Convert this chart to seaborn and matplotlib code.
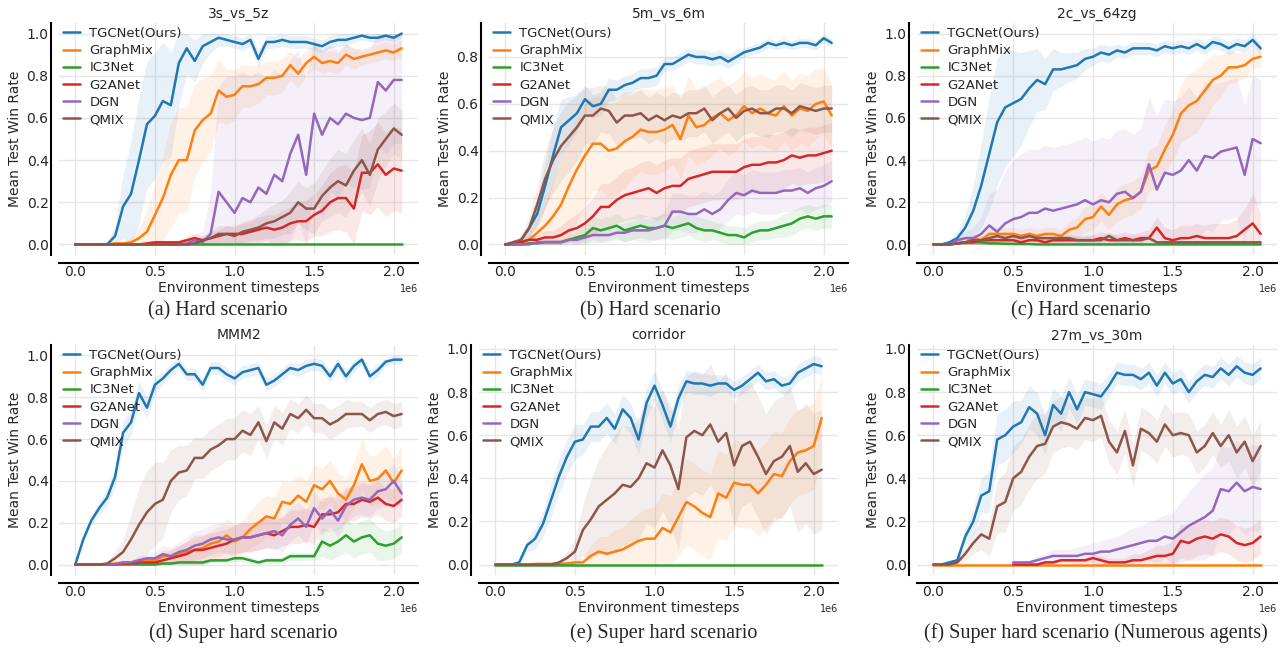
import numpy as np
import matplotlib
matplotlib.use('Agg')
import matplotlib.pyplot as plt
import seaborn as sns

nan = np.nan

methods = ['TGCNet(Ours)', 'GraphMix', 'IC3Net', 'G2ANet', 'DGN', 'QMIX']
colors = ['#1f77b4', '#ff7f0e', '#2ca02c', '#d62728', '#9467bd', '#8c564b']

# evaluation points: 0 .. 2.05e6 every 50k steps
steps = np.arange(42) * 50000

titles = ['3s_vs_5z', '5m_vs_6m', '2c_vs_64zg', 'MMM2', 'corridor', '27m_vs_30m']
captions = ['(a) Hard scenario', '(b) Hard scenario', '(c) Hard scenario',
            '(d) Super hard scenario', '(e) Super hard scenario',
            '(f) Super hard scenario (Numerous agents)']

zeros = [0.0] * 42

# ---------------- (a) 3s_vs_5z ----------------
a_tgc = [0, 0, 0, 0, 0, 0.04, 0.18, 0.24, 0.40, 0.57,
         0.61, 0.68, 0.66, 0.86, 0.93, 0.87, 0.94, 0.96, 0.98, 0.97,
         0.96, 0.95, 0.97, 0.88, 0.96, 0.96, 0.97, 0.96, 0.96, 0.96,
         0.95, 0.94, 0.96, 0.97, 0.97, 0.98, 0.99, 0.98, 0.98, 0.99,
         0.98, 1.00]
a_tgc_sd = [0, 0, 0, 0, 0.01, 0.05, 0.15, 0.25, 0.3, 0.3,
            0.3, 0.28, 0.25, 0.2, 0.12, 0.1, 0.08, 0.05, 0.04, 0.03,
            0.03, 0.03, 0.03, 0.04, 0.03, 0.03, 0.03, 0.03, 0.03, 0.03,
            0.03, 0.03, 0.03, 0.03, 0.03, 0.02, 0.02, 0.02, 0.02, 0.02,
            0.02, 0.02]
a_gmix = [0, 0, 0, 0, 0, 0.005, 0.005, 0.01, 0.03, 0.06,
          0.14, 0.22, 0.33, 0.40, 0.40, 0.54, 0.59, 0.62, 0.73, 0.70,
          0.71, 0.75, 0.75, 0.76, 0.79, 0.79, 0.80, 0.85, 0.81, 0.86,
          0.89, 0.86, 0.87, 0.86, 0.90, 0.88, 0.89, 0.90, 0.91, 0.92,
          0.91, 0.93]
a_gmix_sd = [0, 0, 0, 0, 0, 0.01, 0.01, 0.02, 0.05, 0.1,
             0.15, 0.2, 0.25, 0.25, 0.25, 0.22, 0.2, 0.18, 0.15, 0.13,
             0.12, 0.1, 0.1, 0.09, 0.08, 0.08, 0.08, 0.07, 0.07, 0.06,
             0.06, 0.05, 0.05, 0.05, 0.05, 0.05, 0.04, 0.04, 0.04, 0.04,
             0.04, 0.04]
a_ic3 = zeros
a_ic3_sd = zeros
a_g2a = [0, 0, 0, 0, 0, 0, 0, 0, 0, 0.005,
         0.01, 0.01, 0.01, 0.01, 0.02, 0.03, 0.02, 0.03, 0.04, 0.05,
         0.05, 0.05, 0.06, 0.07, 0.08, 0.07, 0.08, 0.10, 0.11, 0.11,
         0.14, 0.16, 0.20, 0.22, 0.22, 0.17, 0.34, 0.34, 0.38, 0.33,
         0.36, 0.35]
a_g2a_sd = [0, 0, 0, 0, 0, 0, 0, 0, 0, 0.005,
            0.01, 0.01, 0.01, 0.01, 0.02, 0.02, 0.02, 0.03, 0.03, 0.04,
            0.04, 0.05, 0.05, 0.06, 0.06, 0.07, 0.08, 0.08, 0.09, 0.1,
            0.1, 0.12, 0.14, 0.15, 0.16, 0.17, 0.18, 0.2, 0.2, 0.2,
            0.2, 0.2]
a_dgn = [0, 0, 0, 0, 0, 0, 0, 0, 0, 0,
         0, 0, 0, 0, 0.005, 0.02, 0.01, 0.05, 0.25, 0.20,
         0.15, 0.22, 0.20, 0.27, 0.24, 0.33, 0.30, 0.43, 0.52, 0.33,
         0.62, 0.52, 0.60, 0.57, 0.62, 0.60, 0.59, 0.60, 0.77, 0.73,
         0.78, 0.78]
a_dgn_sd = [0, 0, 0, 0, 0, 0, 0, 0, 0, 0,
            0, 0, 0, 0, 0.01, 0.03, 0.05, 0.2, 0.5, 0.6,
            0.65, 0.6, 0.6, 0.55, 0.55, 0.5, 0.5, 0.45, 0.4, 0.45,
            0.35, 0.4, 0.35, 0.35, 0.33, 0.33, 0.33, 0.33, 0.3, 0.3,
            0.3, 0.3]
a_qmix = [0, 0, 0, 0, 0, 0, 0, 0, 0, 0,
          0, 0, 0, 0, 0, 0.005, 0.02, 0.03, 0.05, 0.05,
          0.04, 0.06, 0.07, 0.08, 0.10, 0.11, 0.13, 0.15, 0.20, 0.17,
          0.17, 0.23, 0.27, 0.30, 0.28, 0.35, 0.40, 0.33, 0.45, 0.50,
          0.55, 0.52]
a_qmix_sd = [0, 0, 0, 0, 0, 0, 0, 0, 0, 0,
             0, 0, 0, 0, 0, 0.01, 0.02, 0.03, 0.04, 0.04,
             0.04, 0.05, 0.05, 0.06, 0.07, 0.08, 0.08, 0.1, 0.1, 0.1,
             0.12, 0.12, 0.14, 0.15, 0.15, 0.15, 0.15, 0.15, 0.15, 0.13,
             0.12, 0.12]

# ---------------- (b) 5m_vs_6m ----------------
b_tgc = [0, 0, 0.02, 0.07, 0.13, 0.25, 0.38, 0.50, 0.53, 0.56,
         0.62, 0.59, 0.60, 0.66, 0.66, 0.68, 0.69, 0.71, 0.71, 0.72,
         0.77, 0.77, 0.79, 0.81, 0.80, 0.80, 0.79, 0.80, 0.78, 0.80,
         0.82, 0.83, 0.84, 0.86, 0.85, 0.86, 0.85, 0.86, 0.86, 0.85,
         0.88, 0.86]
b_tgc_sd = [0, 0.005, 0.01, 0.03, 0.06, 0.1, 0.12, 0.12, 0.1, 0.08,
            0.06, 0.05, 0.05, 0.05, 0.04, 0.04, 0.04, 0.04, 0.04, 0.04,
            0.03, 0.03, 0.03, 0.03, 0.03, 0.03, 0.03, 0.03, 0.03, 0.03,
            0.02, 0.02, 0.02, 0.02, 0.02, 0.02, 0.02, 0.02, 0.02, 0.02,
            0.02, 0.02]
b_gmix = [0, 0, 0.01, 0.02, 0.05, 0.08, 0.12, 0.17, 0.25, 0.32,
          0.38, 0.43, 0.43, 0.40, 0.41, 0.44, 0.46, 0.49, 0.48, 0.48,
          0.49, 0.51, 0.45, 0.55, 0.50, 0.51, 0.54, 0.56, 0.53, 0.55,
          0.59, 0.56, 0.58, 0.56, 0.55, 0.59, 0.55, 0.58, 0.57, 0.60,
          0.61, 0.55]
b_gmix_sd = [0, 0, 0.01, 0.03, 0.06, 0.1, 0.15, 0.2, 0.22, 0.22,
             0.22, 0.2, 0.2, 0.2, 0.2, 0.2, 0.18, 0.18, 0.18, 0.18,
             0.18, 0.17, 0.17, 0.17, 0.16, 0.16, 0.16, 0.15, 0.15, 0.15,
             0.15, 0.15, 0.15, 0.15, 0.15, 0.15, 0.15, 0.15, 0.15, 0.15,
             0.14, 0.14]
b_ic3 = [0, 0, 0, 0.005, 0.005, 0.01, 0.01, 0.01, 0.02, 0.03,
         0.04, 0.07, 0.06, 0.07, 0.08, 0.06, 0.07, 0.08, 0.07, 0.07,
         0.08, 0.07, 0.08, 0.09, 0.07, 0.06, 0.06, 0.05, 0.04, 0.04,
         0.03, 0.05, 0.06, 0.06, 0.07, 0.08, 0.09, 0.11, 0.12, 0.11,
         0.12, 0.12]
b_ic3_sd = [0, 0, 0, 0.005, 0.005, 0.01, 0.01, 0.01, 0.02, 0.03,
            0.04, 0.05, 0.05, 0.05, 0.05, 0.05, 0.05, 0.05, 0.05, 0.05,
            0.05, 0.05, 0.05, 0.05, 0.05, 0.05, 0.04, 0.04, 0.04, 0.04,
            0.04, 0.04, 0.04, 0.04, 0.04, 0.05, 0.05, 0.05, 0.05, 0.05,
            0.05, 0.05]
b_g2a = [0, 0, 0.01, 0.02, 0.02, 0.03, 0.03, 0.04, 0.06, 0.07,
         0.09, 0.12, 0.16, 0.16, 0.19, 0.21, 0.22, 0.23, 0.24, 0.22,
         0.24, 0.25, 0.25, 0.28, 0.29, 0.30, 0.31, 0.31, 0.31, 0.31,
         0.33, 0.34, 0.34, 0.35, 0.35, 0.36, 0.38, 0.37, 0.38, 0.38,
         0.39, 0.40]
b_g2a_sd = [0, 0, 0.01, 0.02, 0.02, 0.03, 0.03, 0.04, 0.05, 0.06,
            0.07, 0.08, 0.1, 0.1, 0.1, 0.11, 0.11, 0.12, 0.12, 0.12,
            0.12, 0.12, 0.12, 0.12, 0.12, 0.12, 0.12, 0.12, 0.12, 0.12,
            0.12, 0.12, 0.12, 0.12, 0.12, 0.12, 0.12, 0.12, 0.12, 0.12,
            0.12, 0.12]
b_dgn = [0, 0, 0, 0, 0.01, 0.01, 0.01, 0.01, 0.02, 0.02,
         0.03, 0.04, 0.04, 0.04, 0.05, 0.05, 0.06, 0.06, 0.06, 0.07,
         0.08, 0.14, 0.14, 0.13, 0.13, 0.15, 0.13, 0.15, 0.19, 0.22,
         0.21, 0.23, 0.22, 0.22, 0.22, 0.23, 0.23, 0.24, 0.22, 0.24,
         0.25, 0.27]
b_dgn_sd = [0, 0, 0, 0, 0.01, 0.01, 0.01, 0.01, 0.01, 0.02,
            0.02, 0.03, 0.03, 0.03, 0.03, 0.04, 0.04, 0.05, 0.05, 0.05,
            0.06, 0.08, 0.08, 0.08, 0.08, 0.08, 0.08, 0.08, 0.09, 0.09,
            0.09, 0.09, 0.09, 0.09, 0.09, 0.09, 0.09, 0.09, 0.09, 0.09,
            0.09, 0.09]
b_qmix = [0, 0.01, 0.02, 0.07, 0.17, 0.28, 0.36, 0.42, 0.46, 0.50,
          0.55, 0.55, 0.58, 0.57, 0.52, 0.55, 0.55, 0.56, 0.53, 0.55,
          0.53, 0.55, 0.54, 0.56, 0.56, 0.58, 0.53, 0.56, 0.58, 0.54,
          0.57, 0.58, 0.56, 0.56, 0.58, 0.58, 0.56, 0.59, 0.58, 0.57,
          0.58, 0.58]
b_qmix_sd = [0, 0.01, 0.02, 0.05, 0.08, 0.12, 0.14, 0.15, 0.15, 0.14,
             0.12, 0.12, 0.1, 0.1, 0.1, 0.1, 0.1, 0.1, 0.1, 0.1,
             0.1, 0.1, 0.1, 0.1, 0.1, 0.1, 0.1, 0.1, 0.1, 0.1,
             0.1, 0.1, 0.1, 0.1, 0.1, 0.1, 0.1, 0.1, 0.1, 0.1,
             0.1, 0.1]

# ---------------- (c) 2c_vs_64zg ----------------
c_tgc = [0, 0, 0.01, 0.03, 0.08, 0.16, 0.28, 0.43, 0.58, 0.65,
         0.67, 0.69, 0.74, 0.78, 0.76, 0.83, 0.83, 0.84, 0.85, 0.88,
         0.89, 0.91, 0.90, 0.92, 0.91, 0.93, 0.93, 0.93, 0.92, 0.94,
         0.93, 0.94, 0.93, 0.95, 0.93, 0.96, 0.95, 0.93, 0.95, 0.94,
         0.97, 0.93]
c_tgc_sd = [0, 0, 0.01, 0.03, 0.06, 0.12, 0.2, 0.27, 0.3, 0.28,
            0.25, 0.22, 0.18, 0.15, 0.12, 0.1, 0.08, 0.07, 0.06, 0.05,
            0.04, 0.04, 0.04, 0.03, 0.03, 0.03, 0.03, 0.03, 0.03, 0.03,
            0.03, 0.03, 0.03, 0.03, 0.03, 0.03, 0.03, 0.03, 0.03, 0.03,
            0.03, 0.03]
c_gmix = [0, 0, 0, 0.005, 0.01, 0.03, 0.02, 0.05, 0.05, 0.05,
          0.05, 0.04, 0.05, 0.04, 0.05, 0.05, 0.04, 0.07, 0.08, 0.12,
          0.13, 0.18, 0.14, 0.19, 0.21, 0.22, 0.25, 0.35, 0.37, 0.45,
          0.52, 0.62, 0.66, 0.68, 0.73, 0.78, 0.80, 0.84, 0.84, 0.85,
          0.88, 0.89]
c_gmix_sd = [0, 0, 0, 0.005, 0.01, 0.02, 0.02, 0.03, 0.03, 0.03,
             0.03, 0.03, 0.03, 0.03, 0.03, 0.03, 0.03, 0.04, 0.05, 0.06,
             0.06, 0.07, 0.07, 0.08, 0.08, 0.08, 0.08, 0.1, 0.1, 0.12,
             0.12, 0.14, 0.15, 0.15, 0.14, 0.12, 0.1, 0.08, 0.07, 0.06,
             0.05, 0.05]
c_ic3 = [0, 0, 0, 0.005, 0.01, 0.01, 0.01, 0.005, 0.005, 0.003,
         0.003, 0.002, 0.002, 0, 0, 0, 0, 0, 0, 0,
         0, 0, 0, 0, 0, 0, 0, 0, 0, 0,
         0, 0, 0, 0, 0, 0, 0, 0, 0, 0,
         0, 0]
c_ic3_sd = [0, 0, 0, 0.005, 0.01, 0.01, 0.01, 0.005, 0.005, 0.003,
            0.003, 0.002, 0.002, 0, 0, 0, 0, 0, 0, 0,
            0, 0, 0, 0, 0, 0, 0, 0, 0, 0,
            0, 0, 0, 0, 0, 0, 0, 0, 0, 0,
            0, 0]
c_g2a = [0, 0, 0, 0.005, 0.01, 0.01, 0.02, 0.02, 0.02, 0.02,
         0.02, 0.01, 0.02, 0.02, 0.01, 0.02, 0.02, 0.02, 0.02, 0.02,
         0.02, 0.03, 0.02, 0.02, 0.03, 0.02, 0.03, 0.03, 0.08, 0.03,
         0.02, 0.03, 0.03, 0.04, 0.03, 0.03, 0.03, 0.03, 0.04, 0.07,
         0.10, 0.05]
c_g2a_sd = [0, 0, 0, 0.005, 0.01, 0.01, 0.02, 0.02, 0.02, 0.02,
            0.02, 0.02, 0.02, 0.02, 0.02, 0.02, 0.02, 0.02, 0.02, 0.02,
            0.03, 0.03, 0.03, 0.03, 0.03, 0.03, 0.03, 0.04, 0.05, 0.05,
            0.05, 0.06, 0.06, 0.06, 0.06, 0.07, 0.07, 0.07, 0.08, 0.1,
            0.14, 0.1]
c_dgn = [0, 0, 0, 0.02, 0.03, 0.03, 0.05, 0.09, 0.06, 0.10,
         0.12, 0.13, 0.15, 0.15, 0.17, 0.16, 0.17, 0.18, 0.19, 0.21,
         0.19, 0.21, 0.20, 0.24, 0.25, 0.22, 0.25, 0.38, 0.26, 0.34,
         0.33, 0.35, 0.40, 0.35, 0.42, 0.41, 0.44, 0.45, 0.46, 0.33,
         0.50, 0.48]
c_dgn_sd = [0, 0, 0, 0.02, 0.03, 0.05, 0.08, 0.15, 0.2, 0.25,
            0.28, 0.3, 0.3, 0.3, 0.3, 0.3, 0.3, 0.3, 0.3, 0.3,
            0.3, 0.3, 0.3, 0.3, 0.3, 0.3, 0.3, 0.32, 0.35, 0.35,
            0.35, 0.35, 0.35, 0.35, 0.35, 0.35, 0.33, 0.33, 0.33, 0.33,
            0.3, 0.3]
c_qmix = [0, 0, 0, 0.005, 0.01, 0.02, 0.02, 0.03, 0.04, 0.03,
          0.04, 0.03, 0.04, 0.03, 0.03, 0.03, 0.03, 0.03, 0.02, 0.02,
          0.02, 0.02, 0.04, 0.02, 0.02, 0.02, 0.02, 0.03, 0.01, 0.01,
          0.01, 0.01, 0.01, 0.01, 0.01, 0.01, 0.01, 0.01, 0.01, 0.01,
          0.01, 0.01]
c_qmix_sd = [0, 0, 0, 0.005, 0.01, 0.02, 0.02, 0.02, 0.02, 0.02,
             0.02, 0.02, 0.02, 0.02, 0.02, 0.02, 0.02, 0.02, 0.02, 0.02,
             0.02, 0.02, 0.02, 0.02, 0.02, 0.02, 0.02, 0.02, 0.01, 0.01,
             0.01, 0.01, 0.01, 0.01, 0.01, 0.01, 0.01, 0.01, 0.01, 0.01,
             0.01, 0.01]

# ---------------- (d) MMM2 ----------------
d_tgc = [0, 0.12, 0.21, 0.27, 0.32, 0.42, 0.63, 0.68, 0.82, 0.75,
         0.86, 0.89, 0.93, 0.96, 0.91, 0.91, 0.86, 0.94, 0.94, 0.91,
         0.89, 0.92, 0.93, 0.94, 0.86, 0.88, 0.91, 0.94, 0.93, 0.95,
         0.96, 0.95, 0.90, 0.96, 0.90, 0.95, 0.98, 0.90, 0.93, 0.97,
         0.98, 0.98]
d_tgc_sd = [0, 0.01, 0.02, 0.03, 0.04, 0.05, 0.06, 0.06, 0.06, 0.05,
            0.04, 0.03, 0.03, 0.03, 0.03, 0.03, 0.03, 0.03, 0.03, 0.03,
            0.03, 0.03, 0.03, 0.03, 0.03, 0.03, 0.03, 0.03, 0.03, 0.03,
            0.03, 0.03, 0.03, 0.03, 0.03, 0.03, 0.02, 0.03, 0.03, 0.02,
            0.02, 0.02]
d_gmix = [0, 0, 0, 0, 0, 0.005, 0.01, 0.01, 0.02, 0.02,
          0.02, 0.04, 0.04, 0.05, 0.06, 0.07, 0.08, 0.10, 0.11, 0.14,
          0.11, 0.13, 0.17, 0.20, 0.23, 0.22, 0.30, 0.29, 0.33, 0.30,
          0.38, 0.36, 0.40, 0.34, 0.31, 0.38, 0.48, 0.40, 0.41, 0.45,
          0.39, 0.45]
d_gmix_sd = [0, 0, 0, 0, 0, 0.005, 0.01, 0.01, 0.02, 0.02,
             0.02, 0.03, 0.03, 0.04, 0.05, 0.05, 0.06, 0.06, 0.07, 0.08,
             0.08, 0.08, 0.09, 0.1, 0.1, 0.1, 0.1, 0.1, 0.1, 0.1,
             0.1, 0.1, 0.1, 0.1, 0.1, 0.11, 0.12, 0.12, 0.12, 0.12,
             0.12, 0.12]
d_ic3 = [0, 0, 0, 0, 0, 0, 0, 0, 0, 0,
         0, 0.005, 0.005, 0.01, 0.01, 0.01, 0.01, 0.02, 0.02, 0.02,
         0.03, 0.03, 0.02, 0.01, 0.02, 0.02, 0.02, 0.04, 0.04, 0.04,
         0.04, 0.11, 0.09, 0.11, 0.14, 0.11, 0.13, 0.14, 0.10, 0.09,
         0.10, 0.13]
d_ic3_sd = [0, 0, 0, 0, 0, 0, 0, 0, 0, 0,
            0, 0.005, 0.005, 0.01, 0.01, 0.01, 0.01, 0.01, 0.01, 0.01,
            0.015, 0.015, 0.015, 0.01, 0.015, 0.015, 0.015, 0.02, 0.02, 0.02,
            0.02, 0.07, 0.07, 0.07, 0.08, 0.08, 0.08, 0.08, 0.08, 0.07,
            0.07, 0.07]
d_g2a = [0, 0, 0, 0, 0, 0, 0.005, 0.005, 0.01, 0.01,
         0.01, 0.02, 0.03, 0.04, 0.05, 0.07, 0.07, 0.08, 0.09, 0.10,
         0.12, 0.13, 0.13, 0.14, 0.15, 0.14, 0.16, 0.18, 0.18, 0.19,
         0.18, 0.24, 0.24, 0.25, 0.29, 0.29, 0.31, 0.30, 0.32, 0.29,
         0.28, 0.31]
d_g2a_sd = [0, 0, 0, 0, 0, 0, 0.005, 0.005, 0.01, 0.01,
            0.02, 0.03, 0.04, 0.05, 0.06, 0.07, 0.07, 0.07, 0.07, 0.07,
            0.07, 0.07, 0.07, 0.07, 0.07, 0.07, 0.07, 0.08, 0.08, 0.08,
            0.08, 0.08, 0.08, 0.08, 0.08, 0.08, 0.08, 0.08, 0.08, 0.08,
            0.08, 0.08]
d_dgn = [0, 0, 0, 0, 0, 0, 0.01, 0.01, 0.02, 0.03,
         0.03, 0.05, 0.04, 0.06, 0.07, 0.09, 0.10, 0.12, 0.13, 0.12,
         0.12, 0.13, 0.13, 0.14, 0.15, 0.16, 0.14, 0.19, 0.22, 0.18,
         0.27, 0.22, 0.26, 0.21, 0.28, 0.31, 0.32, 0.31, 0.35, 0.36,
         0.40, 0.34]
d_dgn_sd = [0, 0, 0, 0, 0, 0, 0.01, 0.01, 0.02, 0.02,
            0.03, 0.04, 0.04, 0.05, 0.06, 0.07, 0.07, 0.07, 0.07, 0.07,
            0.07, 0.07, 0.07, 0.07, 0.07, 0.08, 0.08, 0.08, 0.08, 0.08,
            0.08, 0.08, 0.08, 0.08, 0.08, 0.08, 0.08, 0.08, 0.08, 0.08,
            0.08, 0.08]
d_qmix = [0, 0, 0, 0, 0.005, 0.03, 0.06, 0.12, 0.19, 0.25,
          0.29, 0.31, 0.40, 0.44, 0.45, 0.51, 0.51, 0.55, 0.57, 0.60,
          0.60, 0.64, 0.62, 0.68, 0.59, 0.68, 0.65, 0.72, 0.70, 0.74,
          0.70, 0.70, 0.67, 0.69, 0.72, 0.72, 0.72, 0.69, 0.72, 0.73,
          0.71, 0.72]
d_qmix_sd = [0, 0, 0, 0, 0.005, 0.03, 0.06, 0.12, 0.18, 0.2,
             0.2, 0.18, 0.15, 0.13, 0.12, 0.1, 0.1, 0.1, 0.1, 0.1,
             0.1, 0.1, 0.1, 0.08, 0.08, 0.08, 0.08, 0.07, 0.07, 0.07,
             0.07, 0.07, 0.07, 0.07, 0.07, 0.06, 0.06, 0.06, 0.06, 0.06,
             0.06, 0.06]

# ---------------- (e) corridor ----------------
e_tgc = [0, 0, 0, 0.01, 0.09, 0.12, 0.19, 0.30, 0.41, 0.50,
         0.57, 0.58, 0.64, 0.64, 0.68, 0.63, 0.72, 0.68, 0.58, 0.75,
         0.83, 0.74, 0.64, 0.77, 0.85, 0.84, 0.84, 0.83, 0.84, 0.84,
         0.81, 0.83, 0.86, 0.89, 0.85, 0.86, 0.83, 0.84, 0.89, 0.91,
         0.93, 0.92]
e_tgc_sd = [0, 0, 0, 0.01, 0.03, 0.05, 0.06, 0.08, 0.08, 0.08,
            0.08, 0.07, 0.07, 0.07, 0.07, 0.07, 0.07, 0.07, 0.07, 0.07,
            0.07, 0.07, 0.07, 0.06, 0.05, 0.05, 0.05, 0.05, 0.04, 0.04,
            0.04, 0.04, 0.04, 0.04, 0.04, 0.04, 0.04, 0.04, 0.04, 0.04,
            0.04, 0.04]
e_gmix = [0, 0, 0, 0, 0, 0.003, 0.003, 0.003, 0.003, 0.005,
          0.01, 0.01, 0.04, 0.06, 0.05, 0.06, 0.07, 0.09, 0.11, 0.12,
          0.12, 0.17, 0.15, 0.22, 0.29, 0.27, 0.24, 0.22, 0.33, 0.31,
          0.38, 0.37, 0.37, 0.33, 0.37, 0.42, 0.41, 0.48, 0.52, 0.53,
          0.55, 0.68]
e_gmix_sd = [0, 0, 0, 0, 0, 0.003, 0.003, 0.003, 0.003, 0.005,
             0.01, 0.02, 0.05, 0.07, 0.08, 0.1, 0.1, 0.12, 0.13, 0.14,
             0.15, 0.16, 0.17, 0.18, 0.2, 0.2, 0.2, 0.2, 0.2, 0.2,
             0.2, 0.2, 0.2, 0.2, 0.2, 0.2, 0.2, 0.2, 0.2, 0.2,
             0.2, 0.2]
e_ic3 = zeros
e_ic3_sd = zeros
e_g2a = None
e_g2a_sd = None
e_dgn = None
e_dgn_sd = None
e_qmix = [0, 0, 0, 0, 0, 0, 0, 0, 0.01, 0.03,
          0.06, 0.16, 0.21, 0.27, 0.30, 0.33, 0.37, 0.36, 0.40, 0.47,
          0.45, 0.53, 0.46, 0.35, 0.59, 0.62, 0.60, 0.65, 0.57, 0.61,
          0.46, 0.55, 0.57, 0.50, 0.42, 0.48, 0.50, 0.55, 0.43, 0.47,
          0.42, 0.44]
e_qmix_sd = [0, 0, 0, 0, 0, 0, 0, 0, 0.01, 0.03,
             0.06, 0.12, 0.18, 0.22, 0.25, 0.27, 0.28, 0.28, 0.28, 0.28,
             0.28, 0.28, 0.28, 0.28, 0.28, 0.28, 0.28, 0.28, 0.28, 0.28,
             0.28, 0.28, 0.28, 0.28, 0.28, 0.28, 0.28, 0.28, 0.28, 0.28,
             0.28, 0.28]

# ---------------- (f) 27m_vs_30m ----------------
f_tgc = [0, 0, 0.01, 0.02, 0.13, 0.20, 0.32, 0.34, 0.58, 0.60,
         0.64, 0.66, 0.73, 0.70, 0.60, 0.74, 0.70, 0.80, 0.72, 0.80,
         0.79, 0.78, 0.83, 0.89, 0.88, 0.88, 0.86, 0.89, 0.83, 0.89,
         0.84, 0.86, 0.80, 0.85, 0.88, 0.87, 0.91, 0.88, 0.92, 0.89,
         0.88, 0.91]
f_tgc_sd = [0, 0, 0.005, 0.01, 0.04, 0.06, 0.08, 0.1, 0.12, 0.12,
            0.12, 0.1, 0.1, 0.1, 0.09, 0.08, 0.08, 0.07, 0.07, 0.06,
            0.06, 0.06, 0.05, 0.05, 0.05, 0.05, 0.05, 0.05, 0.05, 0.05,
            0.05, 0.05, 0.05, 0.05, 0.05, 0.05, 0.05, 0.05, 0.05, 0.05,
            0.05, 0.05]
f_gmix = zeros
f_gmix_sd = zeros
f_ic3 = None
f_ic3_sd = None
f_g2a = [nan, nan, nan, nan, nan, nan, nan, nan, nan, nan,
         0, 0, 0, 0, 0.01, 0.01, 0.02, 0.02, 0.02, 0.02,
         0.03, 0.02, 0.01, 0.01, 0.01, 0.02, 0.02, 0.03, 0.04, 0.04,
         0.05, 0.11, 0.10, 0.12, 0.13, 0.12, 0.14, 0.13, 0.10, 0.09,
         0.10, 0.13]
f_g2a_sd = [nan, nan, nan, nan, nan, nan, nan, nan, nan, nan,
            0, 0, 0, 0, 0.01, 0.01, 0.01, 0.01, 0.01, 0.01,
            0.02, 0.02, 0.02, 0.02, 0.02, 0.03, 0.03, 0.04, 0.05, 0.05,
            0.06, 0.08, 0.08, 0.08, 0.08, 0.08, 0.08, 0.08, 0.08, 0.08,
            0.08, 0.08]
f_dgn = [nan, nan, nan, nan, nan, nan, nan, nan, nan, nan,
         0.01, 0.01, 0.01, 0.02, 0.03, 0.04, 0.04, 0.04, 0.04, 0.05,
         0.05, 0.06, 0.06, 0.07, 0.08, 0.09, 0.10, 0.11, 0.11, 0.13,
         0.12, 0.15, 0.18, 0.20, 0.22, 0.25, 0.35, 0.34, 0.38, 0.34,
         0.36, 0.35]
f_dgn_sd = [nan, nan, nan, nan, nan, nan, nan, nan, nan, nan,
            0.01, 0.01, 0.01, 0.02, 0.02, 0.03, 0.03, 0.03, 0.04, 0.04,
            0.05, 0.05, 0.06, 0.06, 0.07, 0.08, 0.08, 0.09, 0.1, 0.1,
            0.12, 0.14, 0.16, 0.18, 0.2, 0.2, 0.2, 0.2, 0.2, 0.2,
            0.2, 0.2]
f_qmix = [0, 0, 0, 0.01, 0.05, 0.10, 0.14, 0.12, 0.27, 0.29,
          0.40, 0.43, 0.50, 0.55, 0.56, 0.64, 0.66, 0.65, 0.63, 0.68,
          0.67, 0.69, 0.57, 0.52, 0.62, 0.46, 0.63, 0.61, 0.57, 0.65,
          0.60, 0.61, 0.60, 0.52, 0.55, 0.61, 0.55, 0.60, 0.52, 0.57,
          0.48, 0.55]
f_qmix_sd = [0, 0, 0, 0.01, 0.03, 0.05, 0.07, 0.08, 0.12, 0.14,
             0.15, 0.15, 0.15, 0.15, 0.14, 0.12, 0.12, 0.1, 0.1, 0.1,
             0.1, 0.1, 0.1, 0.1, 0.1, 0.1, 0.1, 0.1, 0.1, 0.1,
             0.1, 0.1, 0.1, 0.1, 0.1, 0.1, 0.1, 0.12, 0.12, 0.12,
             0.12, 0.12]

panels = [
    [(a_tgc, a_tgc_sd), (a_gmix, a_gmix_sd), (a_ic3, a_ic3_sd),
     (a_g2a, a_g2a_sd), (a_dgn, a_dgn_sd), (a_qmix, a_qmix_sd)],
    [(b_tgc, b_tgc_sd), (b_gmix, b_gmix_sd), (b_ic3, b_ic3_sd),
     (b_g2a, b_g2a_sd), (b_dgn, b_dgn_sd), (b_qmix, b_qmix_sd)],
    [(c_tgc, c_tgc_sd), (c_gmix, c_gmix_sd), (c_ic3, c_ic3_sd),
     (c_g2a, c_g2a_sd), (c_dgn, c_dgn_sd), (c_qmix, c_qmix_sd)],
    [(d_tgc, d_tgc_sd), (d_gmix, d_gmix_sd), (d_ic3, d_ic3_sd),
     (d_g2a, d_g2a_sd), (d_dgn, d_dgn_sd), (d_qmix, d_qmix_sd)],
    [(e_tgc, e_tgc_sd), (e_gmix, e_gmix_sd), (e_ic3, e_ic3_sd),
     (e_g2a, e_g2a_sd), (e_dgn, e_dgn_sd), (e_qmix, e_qmix_sd)],
    [(f_tgc, f_tgc_sd), (f_gmix, f_gmix_sd), (f_ic3, f_ic3_sd),
     (f_g2a, f_g2a_sd), (f_dgn, f_dgn_sd), (f_qmix, f_qmix_sd)],
]

# axes boxes in pixels: left, right, top, bottom
W, H = 1283, 650
boxes = [(59, 418, 23, 255), (489, 848, 23, 255), (917, 1277, 23, 255),
         (59, 418, 345, 575), (479, 838, 345, 575), (917, 1277, 345, 575)]
caption_x = [218, 650, 1081, 243, 664, 1096]
caption_y = [311, 311, 311, 633, 633, 633]


def plot_panel(ax, series, title):
    """Draw the six learning curves of one scenario with their shaded spread."""
    for name, color, (mean, sd) in zip(methods, colors, series):
        if mean is None:
            ax.plot([], [], color=color, linewidth=1.8, label=name)
            continue
        mean = np.asarray(mean, dtype=float)
        sd = np.asarray(sd, dtype=float)
        lo = np.clip(mean - sd, 0, 1)
        hi = np.clip(mean + sd, 0, 1)
        ax.fill_between(steps, lo, hi, color=color, alpha=0.1, linewidth=0)
        sns.lineplot(x=steps, y=mean, color=color, linewidth=1.8,
                     label=name, ax=ax)

    ax.set_title(title, fontsize=10, pad=4)
    ax.set_xlabel('Environment timesteps', fontsize=10, labelpad=1)
    ax.set_ylabel('Mean Test Win Rate', fontsize=10, labelpad=3)
    ax.tick_params(labelsize=10, pad=2)
    ax.xaxis.get_offset_text().set_fontsize(7)
    ax.legend(loc='upper left', frameon=False, fontsize=9.5,
              handlelength=1.3, handletextpad=0.7, labelspacing=0.32,
              borderaxespad=0, borderpad=0.3)
    sns.despine(ax=ax, offset=5.5)
    for side in ['left', 'bottom']:
        ax.spines[side].set_color('black')
        ax.spines[side].set_linewidth(1.5)


sns.set_theme(style='whitegrid')
plt.rcParams['font.family'] = ['DejaVu Sans']
plt.rcParams['grid.color'] = '#e6e6e6'
plt.rcParams['xtick.major.size'] = 0
plt.rcParams['ytick.major.size'] = 0

fig = plt.figure(figsize=(W / 100, H / 100), dpi=100)

for i in range(6):
    l, r, t, b = boxes[i]
    ax = fig.add_axes([l / W, 1 - b / H, (r - l) / W, (b - t) / H])
    plot_panel(ax, panels[i], titles[i])
    fig.text(caption_x[i] / W, 1 - caption_y[i] / H, captions[i],
             ha='center', va='center', fontsize=14.5,
             family='Liberation Serif')

fig.savefig('out.png', dpi=100, facecolor='white')
